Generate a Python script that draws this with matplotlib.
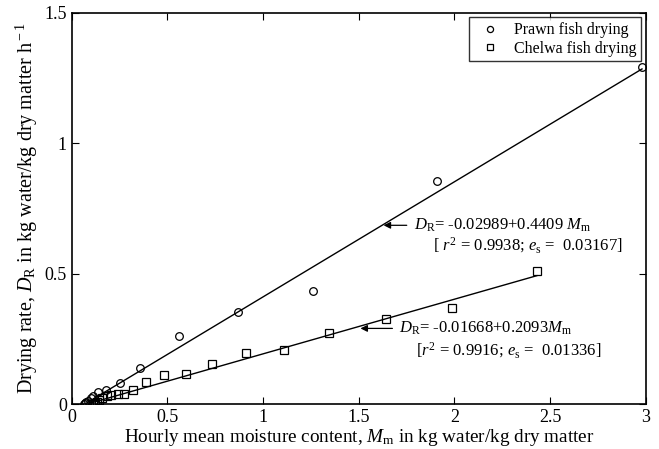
import matplotlib
matplotlib.use("Agg")
import matplotlib.pyplot as plt
import numpy as np
from matplotlib.ticker import FormatStrFormatter

# fonts: Times-like look
plt.rcParams['font.family'] = ['Liberation Serif', 'DejaVu Serif']
plt.rcParams['mathtext.fontset'] = 'custom'
plt.rcParams['mathtext.rm'] = 'Liberation Serif'
plt.rcParams['mathtext.it'] = 'Liberation Serif:italic'

# data
prawn_x = [0.065, 0.07, 0.075, 0.085, 0.10, 0.112, 0.135, 0.18, 0.25, 0.357, 0.561, 0.869, 1.262, 1.91, 2.98]
prawn_y = [0.002, 0.005, 0.008, 0.012, 0.022, 0.032, 0.046, 0.055, 0.079, 0.139, 0.26, 0.351, 0.434, 0.854, 1.29]

chelwa_x = [0.11, 0.12, 0.13, 0.143, 0.16, 0.182, 0.206, 0.24, 0.275, 0.32, 0.388, 0.482, 0.598,
            0.733, 0.911, 1.108, 1.346, 1.641, 1.987, 2.43]
chelwa_y = [0.002, 0.004, 0.008, 0.016, 0.022, 0.03, 0.036, 0.04, 0.04, 0.055, 0.083, 0.112, 0.115,
            0.152, 0.194, 0.207, 0.271, 0.326, 0.367, 0.51]

# regression coefficients (intercept, slope)
prawn_fit = (-0.02989, 0.4409)
chelwa_fit = (-0.01668, 0.2093)

x_ticks = [0, 0.5, 1, 1.5, 2, 2.5, 3]
y_ticks = [0, 0.5, 1, 1.5]

fig = plt.figure(figsize=(6.59, 4.49), dpi=100)
ax = fig.add_axes([0.109, 0.100, 0.871, 0.872])

ax.plot(prawn_x, prawn_y, 'o', mfc='none', mec='black', ms=5.5, mew=0.9, label='Prawn fish drying')
ax.plot(chelwa_x, chelwa_y, 's', mfc='none', mec='black', ms=5.5, mew=0.9, label='Chelwa fish drying')

xx = np.array([min(prawn_x), max(prawn_x)])
ax.plot(xx, prawn_fit[0] + prawn_fit[1] * xx, 'k-', lw=1)
xx = np.array([min(chelwa_x), max(chelwa_x)])
ax.plot(xx, chelwa_fit[0] + chelwa_fit[1] * xx, 'k-', lw=1)

# equation labels with arrows
ax.annotate('', xy=(1.615, 0.685), xytext=(1.765, 0.685),
            arrowprops=dict(arrowstyle='-|>', color='black', lw=0.9, mutation_scale=10))
ax.text(1.79, 0.685, r'$D_{\rm R}$= -0.02989+0.4409 $M_{\rm m}$', fontsize=12, va='center', ha='left')
ax.text(1.89, 0.610, r'[ $r^2$ = 0.9938; $e_{\rm s}$ =  0.03167]', fontsize=12, va='center', ha='left')

ax.annotate('', xy=(1.494, 0.29), xytext=(1.69, 0.29),
            arrowprops=dict(arrowstyle='-|>', color='black', lw=0.9, mutation_scale=10))
ax.text(1.71, 0.29, r'$D_{\rm R}$= -0.01668+0.2093$M_{\rm m}$', fontsize=12, va='center', ha='left')
ax.text(1.80, 0.207, r'[$r^2$ = 0.9916; $e_{\rm s}$ =  0.01336]', fontsize=12, va='center', ha='left')

ax.set_xlim(0, 3)
ax.set_ylim(0, 1.5)
ax.set_xticks(x_ticks)
ax.set_yticks(y_ticks)
ax.xaxis.set_major_formatter(FormatStrFormatter('%g'))
ax.yaxis.set_major_formatter(FormatStrFormatter('%g'))
ax.tick_params(direction='in', top=True, right=True, labelsize=13, length=5, width=0.8)
for s in ax.spines.values():
    s.set_linewidth(1.2)

ax.set_xlabel(r'Hourly mean moisture content, $M_{\rm m}$ in kg water/kg dry matter', fontsize=13.8, labelpad=1)
ax.set_ylabel(r'Drying rate, $D_{\rm R}$ in kg water/kg dry matter h$^{\rm -1}$', fontsize=14.5, labelpad=3)

leg = ax.legend(loc='upper right', fontsize=11.5, frameon=True, fancybox=False, edgecolor='black',
                handletextpad=0.5, borderaxespad=0.3, borderpad=0.3, numpoints=1, labelspacing=0.15,
                markerscale=0.8)
leg.get_frame().set_linewidth(1.0)

fig.savefig('out.png', dpi=100)
